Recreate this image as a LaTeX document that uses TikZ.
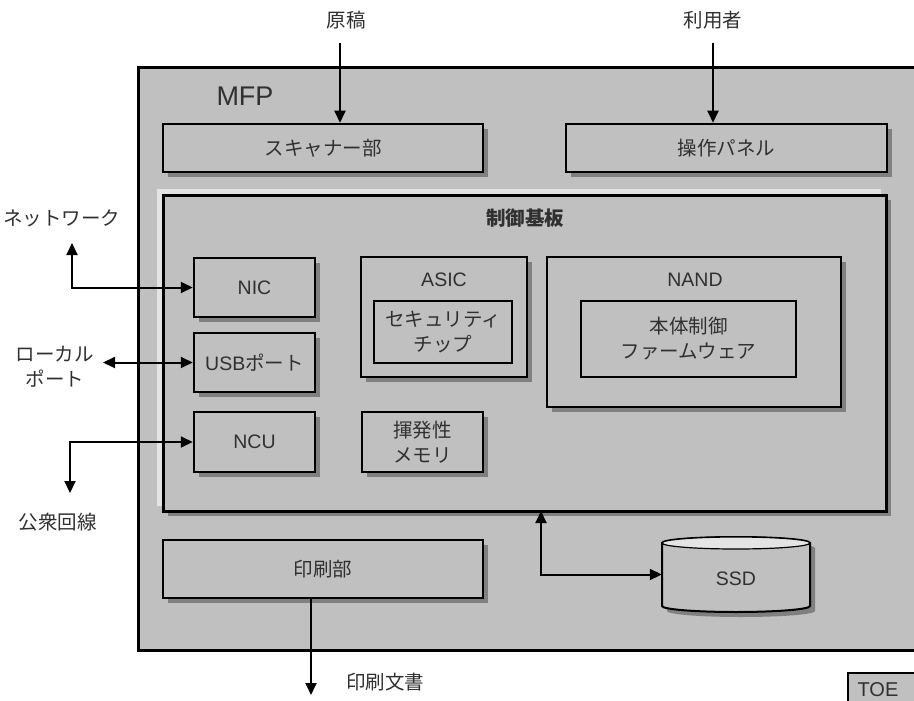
\documentclass[tikz,border=0pt]{standalone}
\usepackage{fontspec}
\setmainfont{Liberation Sans}
\newfontfamily\jp{Noto Sans CJK JP}
\usetikzlibrary{arrows.meta,shadows}
\definecolor{boxgray}{HTML}{C0C0C0}
\definecolor{shgray}{HTML}{808080}
\definecolor{hilite}{HTML}{E4E4E4}
\definecolor{txt}{HTML}{303030}
\begin{document}
\begin{tikzpicture}[x=1pt,y=-1pt,
  >={Triangle[length=12pt,width=11pt]},
  fnt/.style={font=\fontsize{19.5}{25}\selectfont},
  box/.style={draw=black, line width=2.5pt, fill=boxgray, inner sep=0pt, text=txt, fnt, align=center,
    drop shadow={shadow xshift=5pt, shadow yshift=-5pt, fill=shgray, opacity=1}},
  innerbox/.style={draw=black, line width=2pt, fill=boxgray, inner sep=0pt, text=txt, fnt, align=center},
  lbl/.style={text=txt, fnt, align=center, inner sep=0pt},
  conn/.style={line width=2pt, draw=black}]
\useasboundingbox (0,0) rectangle (914,701);
\clip (0,0) rectangle (914,701);
\fill[white] (0,0) rectangle (914,701);

% MFP enclosure
\node[draw=black, line width=3pt, fill=boxgray, minimum width=800pt, minimum height=582pt, inner sep=0pt] (mfp) at (538,359) {};
\node[lbl, font=\fontsize{27}{27}\selectfont] (mfplbl) at (245,96) {MFP};

% scanner and panel
\node[box, minimum width=320pt, minimum height=48pt] (scan) at (323,148) {\jp スキャナー部};
\node[box, minimum width=321pt, minimum height=48pt] (panel) at (726.5,148) {\jp 操作パネル};

% control board
\fill[hilite] (157,189) rectangle (881,506);
\node[box, line width=3pt, minimum width=723pt, minimum height=316pt] (board) at (524.5,353) {};
\node[lbl] (boardlbl) at (525,218) {\jp\bfseries 制御基板};

\node[box, minimum width=121pt, minimum height=59pt] (nic) at (254.5,287.5) {NIC};
\node[box, minimum width=121pt, minimum height=59pt] (usb) at (254.5,362.5) {USB{\jp ポート}};
\node[box, minimum width=121pt, minimum height=60pt] (ncu) at (254.5,442) {NCU};

\node[box, minimum width=166pt, minimum height=120pt] (asic) at (444,317) {};
\node[lbl] (asiclbl) at (444,280) {ASIC};
\node[innerbox, minimum width=138pt, minimum height=62pt] (chip) at (443,332) {\jp セキュリティ\\\jp チップ};

\node[box, minimum width=294pt, minimum height=150pt] (nand) at (694,332) {};
\node[lbl] (nandlbl) at (695,280) {NAND};
\node[innerbox, minimum width=215pt, minimum height=76pt] (fw) at (688.5,339) {\jp 本体制御\\\jp ファームウェア};

\node[box, minimum width=121pt, minimum height=60pt] (mem) at (422.5,442) {\jp 揮発性\\\jp メモリ};

% print unit
\node[box, minimum width=320pt, minimum height=58pt] (print) at (323,569) {\jp 印刷部};

% SSD cylinder
\fill[shgray] (667,548) -- (667,611) arc[start angle=180,end angle=0,x radius=74,y radius=6] -- (815,548) arc[start angle=0,end angle=-180,x radius=74,y radius=6] -- cycle;
\filldraw[fill=boxgray, draw=black, line width=2pt] (662,543) -- (662,606) arc[start angle=180,end angle=0,x radius=74,y radius=6] -- (810,543) arc[start angle=0,end angle=-180,x radius=74,y radius=6] -- cycle;
\filldraw[fill=hilite, draw=black, line width=1.2pt] (736,543) ellipse[x radius=74, y radius=6];
\node[lbl, minimum width=148pt, minimum height=75pt] (ssd) at (736,574.5) {};
\node[lbl] (ssdlbl) at (736,579) {SSD};

% external labels
\node[lbl] (genko) at (346,20) {\jp 原稿};
\node[lbl] (user) at (713,20) {\jp 利用者};
\node[lbl] (net) at (62,218) {\jp ネットワーク};
\node[lbl] (local) at (55,367) {\jp ローカル\\\jp ポート};
\node[lbl] (pub) at (58,522) {\jp 公衆回線};
\node[lbl] (doc) at (385,682) {\jp 印刷文書};

% connectors
\coordinate (gensrc) at (340,43);
\draw[conn,->] (gensrc) -- (gensrc |- scan.north);
\coordinate (usersrc) at (713,43);
\draw[conn,->] (usersrc) -- (usersrc |- panel.north);
\coordinate (netend) at (72,243);
\draw[conn,<->] (netend) |- (nic.west);
\coordinate (locend) at (103,362.5);
\draw[conn,<->] (locend) -- (usb.west);
\coordinate (pubend) at (70,493);
\draw[conn,<->] (ncu.west) -| (pubend);
\coordinate (prdst) at (311,695);
\draw[conn,->] (prdst |- print.south) -- (prdst);
\coordinate (bssd) at (541,511);
\draw[conn,<->] (bssd) |- (ssd.west);

% TOE tag
\node[draw=black, line width=1.5pt, fill=boxgray, minimum width=90pt, minimum height=40pt, anchor=north west, inner sep=0pt] (toe) at (847,672) {};
\node[lbl, font=\fontsize{20}{20}\selectfont] (toelbl) at (878,690) {TOE};
\end{tikzpicture}
\end{document}
